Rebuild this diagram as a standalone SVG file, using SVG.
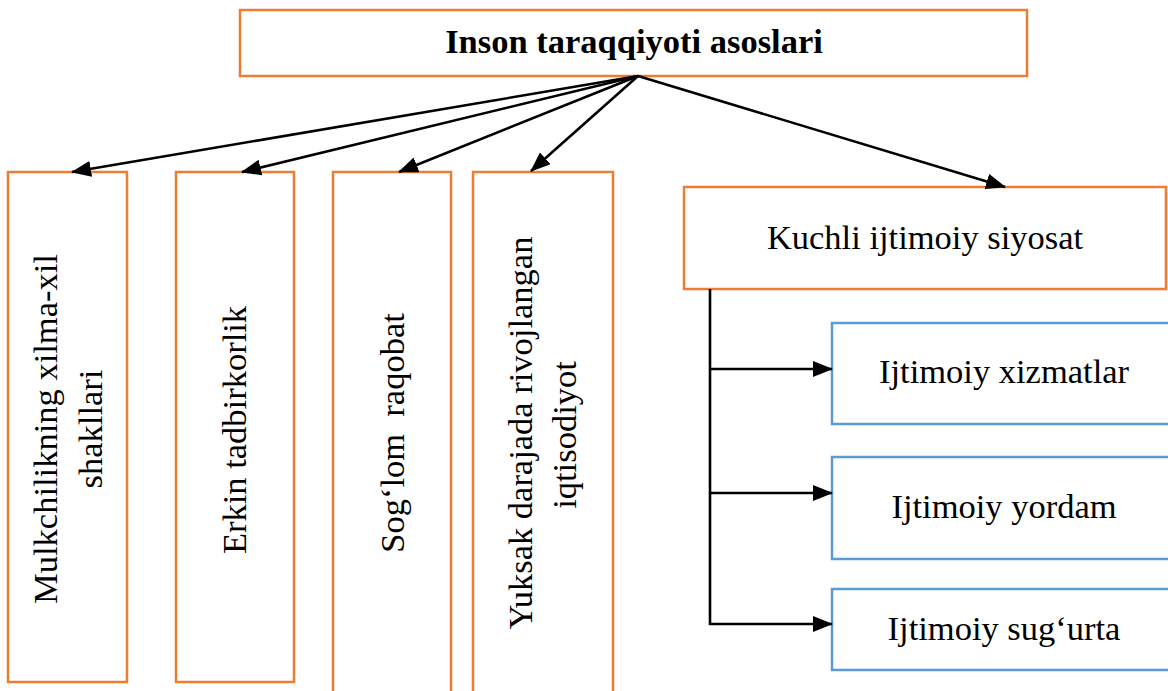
<svg xmlns="http://www.w3.org/2000/svg" width="1168" height="691" viewBox="0 0 1168 691" font-family="'Liberation Serif', 'Times New Roman', serif">
<defs>
<style>
.o{fill:#fff;stroke:#ED7D31;stroke-width:2.5}
.b{fill:#fff;stroke:#5B9BD5;stroke-width:2.5}
text{font-family:'Liberation Serif','Times New Roman',serif;font-size:34.5px;fill:#000;text-anchor:middle}
.bold{font-weight:bold}
.c{stroke:#000;stroke-width:2.6;fill:none}
</style>
<marker id="ah" viewBox="0 0 20 16" refX="19" refY="8" markerWidth="20" markerHeight="16" markerUnits="userSpaceOnUse" orient="auto">
<path d="M0,0 L20,8 L0,16 z" fill="#000"/>
</marker>
</defs>
<rect width="1168" height="691" fill="#fff"/>
<g id="root">
<rect class="o" x="240" y="10" width="787" height="66"/>
<text class="bold" x="634" y="53">Inson taraqqiyoti asoslari</text>
</g>
<g id="n1">
<rect class="o" x="8" y="172" width="119" height="510"/>
<text transform="translate(57,429) rotate(-90)">Mulkchilikning xilma-xil</text>
<text transform="translate(102,429) rotate(-90)">shakllari</text>
</g>
<g id="n2">
<rect class="o" x="176" y="172" width="118" height="510"/>
<text transform="translate(246,430) rotate(-90)">Erkin tadbirkorlik</text>
</g>
<g id="n3">
<rect class="o" x="333" y="172" width="118" height="530"/>
<text transform="translate(404,433) rotate(-90)" xml:space="preserve">Sog‘lom  raqobat</text>
</g>
<g id="n4">
<rect class="o" x="473" y="172" width="140" height="530"/>
<text transform="translate(532,433) rotate(-90)">Yuksak darajada rivojlangan</text>
<text transform="translate(576,435) rotate(-90)">iqtisodiyot</text>
</g>
<g id="n5">
<rect class="o" x="684" y="187" width="482" height="102"/>
<text x="925" y="249">Kuchli ijtimoiy siyosat</text>
</g>
<g id="n6">
<rect class="b" x="832" y="323" width="344" height="101"/>
<text x="1004" y="383">Ijtimoiy xizmatlar</text>
</g>
<g id="n7">
<rect class="b" x="832" y="457" width="344" height="102"/>
<text x="1004" y="518">Ijtimoiy yordam</text>
</g>
<g id="n8">
<rect class="b" x="832" y="589" width="344" height="81"/>
<text x="1004" y="640">Ijtimoiy sug‘urta</text>
</g>
<g id="connectors">
<line class="c" x1="638" y1="76" x2="72" y2="172" marker-end="url(#ah)"/>
<line class="c" x1="638" y1="76" x2="242" y2="172" marker-end="url(#ah)"/>
<line class="c" x1="638" y1="76" x2="399" y2="172" marker-end="url(#ah)"/>
<line class="c" x1="638" y1="76" x2="531" y2="171" marker-end="url(#ah)"/>
<line class="c" x1="638" y1="76" x2="1005" y2="187" marker-end="url(#ah)"/>
<polyline class="c" points="710,289 710,625"/>
<line class="c" x1="709" y1="369" x2="832" y2="369" marker-end="url(#ah)"/>
<line class="c" x1="709" y1="493" x2="832" y2="493" marker-end="url(#ah)"/>
<line class="c" x1="709" y1="624" x2="832" y2="624" marker-end="url(#ah)"/>
</g>
</svg>
